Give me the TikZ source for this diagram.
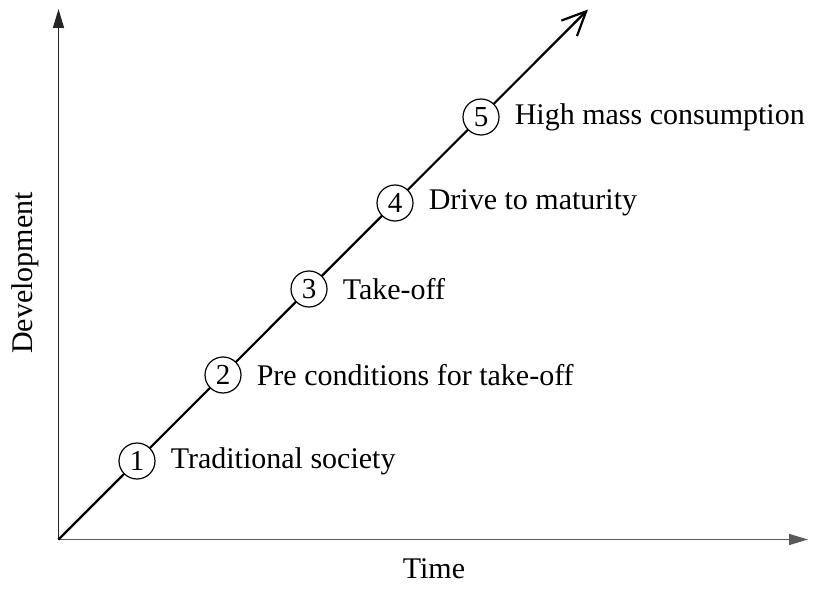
\documentclass[tikz,border=0pt]{standalone}
\usepackage{fontspec}
\setmainfont{Liberation Serif}
\usetikzlibrary{arrows.meta}
\begin{document}
\begin{tikzpicture}[x=1bp,y=-1bp,
  stage/.style={circle,draw=black,fill=white,line width=1.2bp,minimum size=36bp,inner sep=0pt,font=\fontsize{29bp}{32bp}\selectfont},
  lbl/.style={anchor=west,inner sep=0pt,font=\fontsize{30bp}{36bp}\selectfont},
  axis/.style={line width=1.5bp,-{Triangle[length=19bp,width=11bp]}}]
\useasboundingbox (0,0) rectangle (816,592);
\coordinate (o) at (58.5,539.5);
\coordinate (ytop) at (58.5,9);
\coordinate (xend) at (808,539.5);
\coordinate (dtip) at (588,9.5);
\draw[axis,draw=black!85] (o) -- (ytop);
\draw[axis,draw=black!65,fill=black] (o) -- (xend);
\draw[line width=2.2bp,-{Straight Barb[length=24bp,width=22bp,line width=2.2bp]}] (o) -- (dtip);
\foreach \i/\x/\t in {1/137/Traditional society,2/223/Pre conditions for take-off,3/309/Take-off,4/395/Drive to maturity,5/481/High mass consumption}{
  \pgfmathsetmacro{\yy}{539.5-(\x-58.5)}
  \node[stage] (s\i) at (\x,\yy) {\i};
  \node[lbl] (t\i) at ([xshift=15bp]s\i.east) {\t};
}
\node[font=\fontsize{30bp}{36bp}\selectfont,inner sep=0pt] (time) at (434,569) {Time};
\node[font=\fontsize{30bp}{36bp}\selectfont,inner sep=0pt,rotate=90] (dev) at (25,273) {Development};
\end{tikzpicture}
\end{document}
